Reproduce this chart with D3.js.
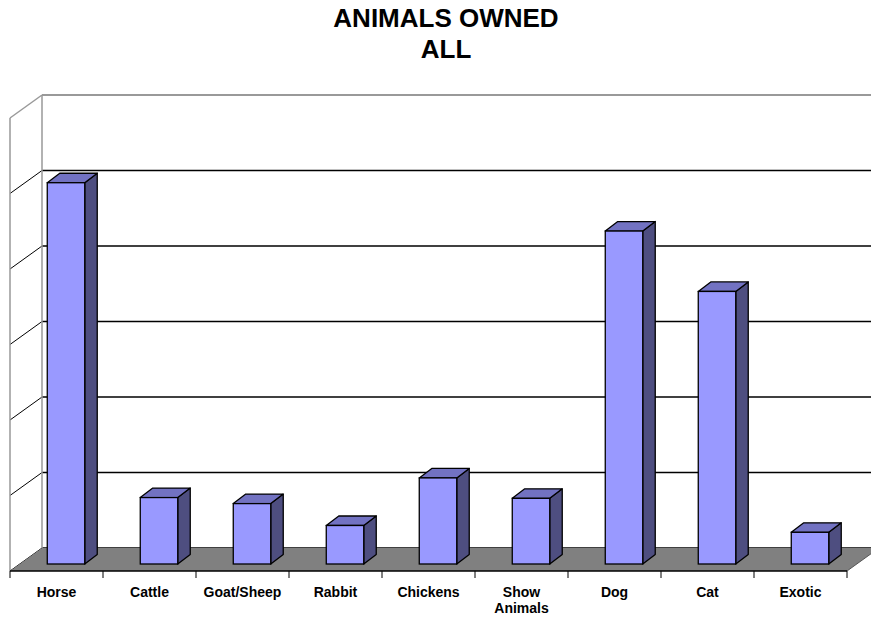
<!DOCTYPE html>
<html>
<head>
<meta charset="utf-8">
<script src="https://cdn.jsdelivr.net/npm/d3@7/dist/d3.min.js"></script>
<style>
  html, body { margin: 0; padding: 0; background: #fff; }
  svg { display: block; font-family: "Liberation Sans", Arial, sans-serif; }
</style>
</head>
<body>
<svg id="chart" width="871" height="621"></svg>
<script>
// Chart data
const categories = ["Horse", "Cattle", "Goat/Sheep", "Rabbit", "Chickens", "Show\nAnimals", "Dog", "Cat", "Exotic"];
const values = [50.5, 8.8, 8.0, 5.1, 11.4, 8.7, 44.1, 36.1, 4.2];
const valueTicks = [0, 10, 20, 30, 40, 50, 60];
const titleLines = ["ANIMALS OWNED", "ALL"];

const svg = d3.select("#chart");
const W = 871, H = 621;

// Oblique projection: floor depth runs from the back wall to the front axis
const wallDX = -32, wallDY = 23;          // back -> front offset of the floor
const barFrontDX = -16, barFrontDY = 16;  // bar front face position relative to back wall
const barDepthDX = 12.5, barDepthDY = -9.5;

// Front axis (category) scale
const x = d3.scaleBand().domain(categories).range([10, 847]).padding(0);
// Value scale on the back wall
const y = d3.scaleLinear().domain([0, 60]).range([548, 95]);

const backLeft = x.range()[0] - wallDX;        // 42
const backRight = x.range()[1] - wallDX;       // 879

// Side wall
svg.append("polygon")
  .attr("points", [[10, y(60) + wallDY], [backLeft, y(60)], [backLeft, y(0)], [10, y(0) + wallDY]].join(" "))
  .attr("fill", "#fff");

// Back wall gridlines and side wall gridlines
valueTicks.forEach(t => {
  const top = t === valueTicks[valueTicks.length - 1];
  const col = top ? "#999" : "#000";
  const sw = top ? 2 : 1.4;
  svg.append("line")
    .attr("x1", backLeft).attr("x2", backRight)
    .attr("y1", y(t)).attr("y2", y(t))
    .attr("stroke", col).attr("stroke-width", sw);
  svg.append("line")
    .attr("x1", backLeft).attr("y1", y(t))
    .attr("x2", 10).attr("y2", y(t) + wallDY)
    .attr("stroke", top ? "#999" : "#000").attr("stroke-width", top ? 1.5 : 1);
});

// Wall edges
svg.append("line").attr("x1", backLeft).attr("x2", backLeft)
  .attr("y1", y(60)).attr("y2", y(0)).attr("stroke", "#999").attr("stroke-width", 1.5);
svg.append("line").attr("x1", 10).attr("x2", 10)
  .attr("y1", y(60) + wallDY).attr("y2", y(0) + wallDY).attr("stroke", "#999").attr("stroke-width", 1.5);

// Floor
svg.append("polygon")
  .attr("points", [[backLeft, y(0)], [backRight, y(0)], [x.range()[1], y(0) + wallDY], [10, y(0) + wallDY]].join(" "))
  .attr("fill", "#808080");
svg.append("line")
  .attr("x1", x.range()[1]).attr("y1", y(0) + wallDY)
  .attr("x2", backRight).attr("y2", y(0))
  .attr("stroke", "#555").attr("stroke-width", 1);

// Category axis line and ticks
const axisY = y(0) + wallDY;
svg.append("line").attr("x1", 10).attr("x2", x.range()[1])
  .attr("y1", axisY).attr("y2", axisY).attr("stroke", "#000").attr("stroke-width", 1.5);
const tickXs = categories.map(c => x(c)).concat([x.range()[1]]);
svg.selectAll("line.tick").data(tickXs).enter().append("line")
  .attr("class", "tick")
  .attr("x1", d => d).attr("x2", d => d)
  .attr("y1", axisY).attr("y2", axisY + 7)
  .attr("stroke", "#000").attr("stroke-width", 1);

// 3D bars
const faceW = x.bandwidth() * 0.403;
const bars = svg.selectAll("g.bar").data(categories.map((c, i) => ({ c, v: values[i] })))
  .enter().append("g").attr("class", "bar");

bars.each(function(d) {
  const g = d3.select(this);
  const cx = x(d.c) + x.bandwidth() / 2 + 9.5;
  const x0 = cx - faceW / 2, x1 = cx + faceW / 2;
  const yTop = y(d.v) + barFrontDY;
  const yBot = y(0) + barFrontDY;
  const dx = barDepthDX, dy = barDepthDY;
  // side face
  g.append("polygon")
    .attr("points", [[x1, yTop], [x1 + dx, yTop + dy], [x1 + dx, yBot + dy], [x1, yBot]].join(" "))
    .attr("fill", "#4E4E80").attr("stroke", "#000").attr("stroke-width", 1.3).attr("stroke-linejoin", "round");
  // top face
  g.append("polygon")
    .attr("points", [[x0, yTop], [x0 + dx, yTop + dy], [x1 + dx, yTop + dy], [x1, yTop]].join(" "))
    .attr("fill", "#7272C2").attr("stroke", "#000").attr("stroke-width", 1.3).attr("stroke-linejoin", "round");
  // front face
  g.append("rect")
    .attr("x", x0).attr("y", yTop).attr("width", faceW).attr("height", yBot - yTop)
    .attr("fill", "#9999FF").attr("stroke", "#000").attr("stroke-width", 1.3);
});

// Category labels
svg.selectAll("text.cat").data(categories).enter().append("text")
  .attr("class", "cat")
  .attr("text-anchor", "middle")
  .attr("font-size", "14px").attr("font-weight", "bold").attr("fill", "#000")
  .each(function(c) {
    const t = d3.select(this);
    c.split("\n").forEach((line, i) => {
      t.append("tspan")
        .attr("x", x(c) + x.bandwidth() / 2)
        .attr("y", 596.5 + i * 16.7)
        .text(line);
    });
  });

// Title
svg.selectAll("text.title").data(titleLines).enter().append("text")
  .attr("class", "title")
  .attr("x", 446).attr("y", (d, i) => 27.3 + i * 31)
  .attr("text-anchor", "middle")
  .attr("font-size", "26px").attr("font-weight", "bold").attr("fill", "#000")
  .text(d => d);
</script>
</body>
</html>
